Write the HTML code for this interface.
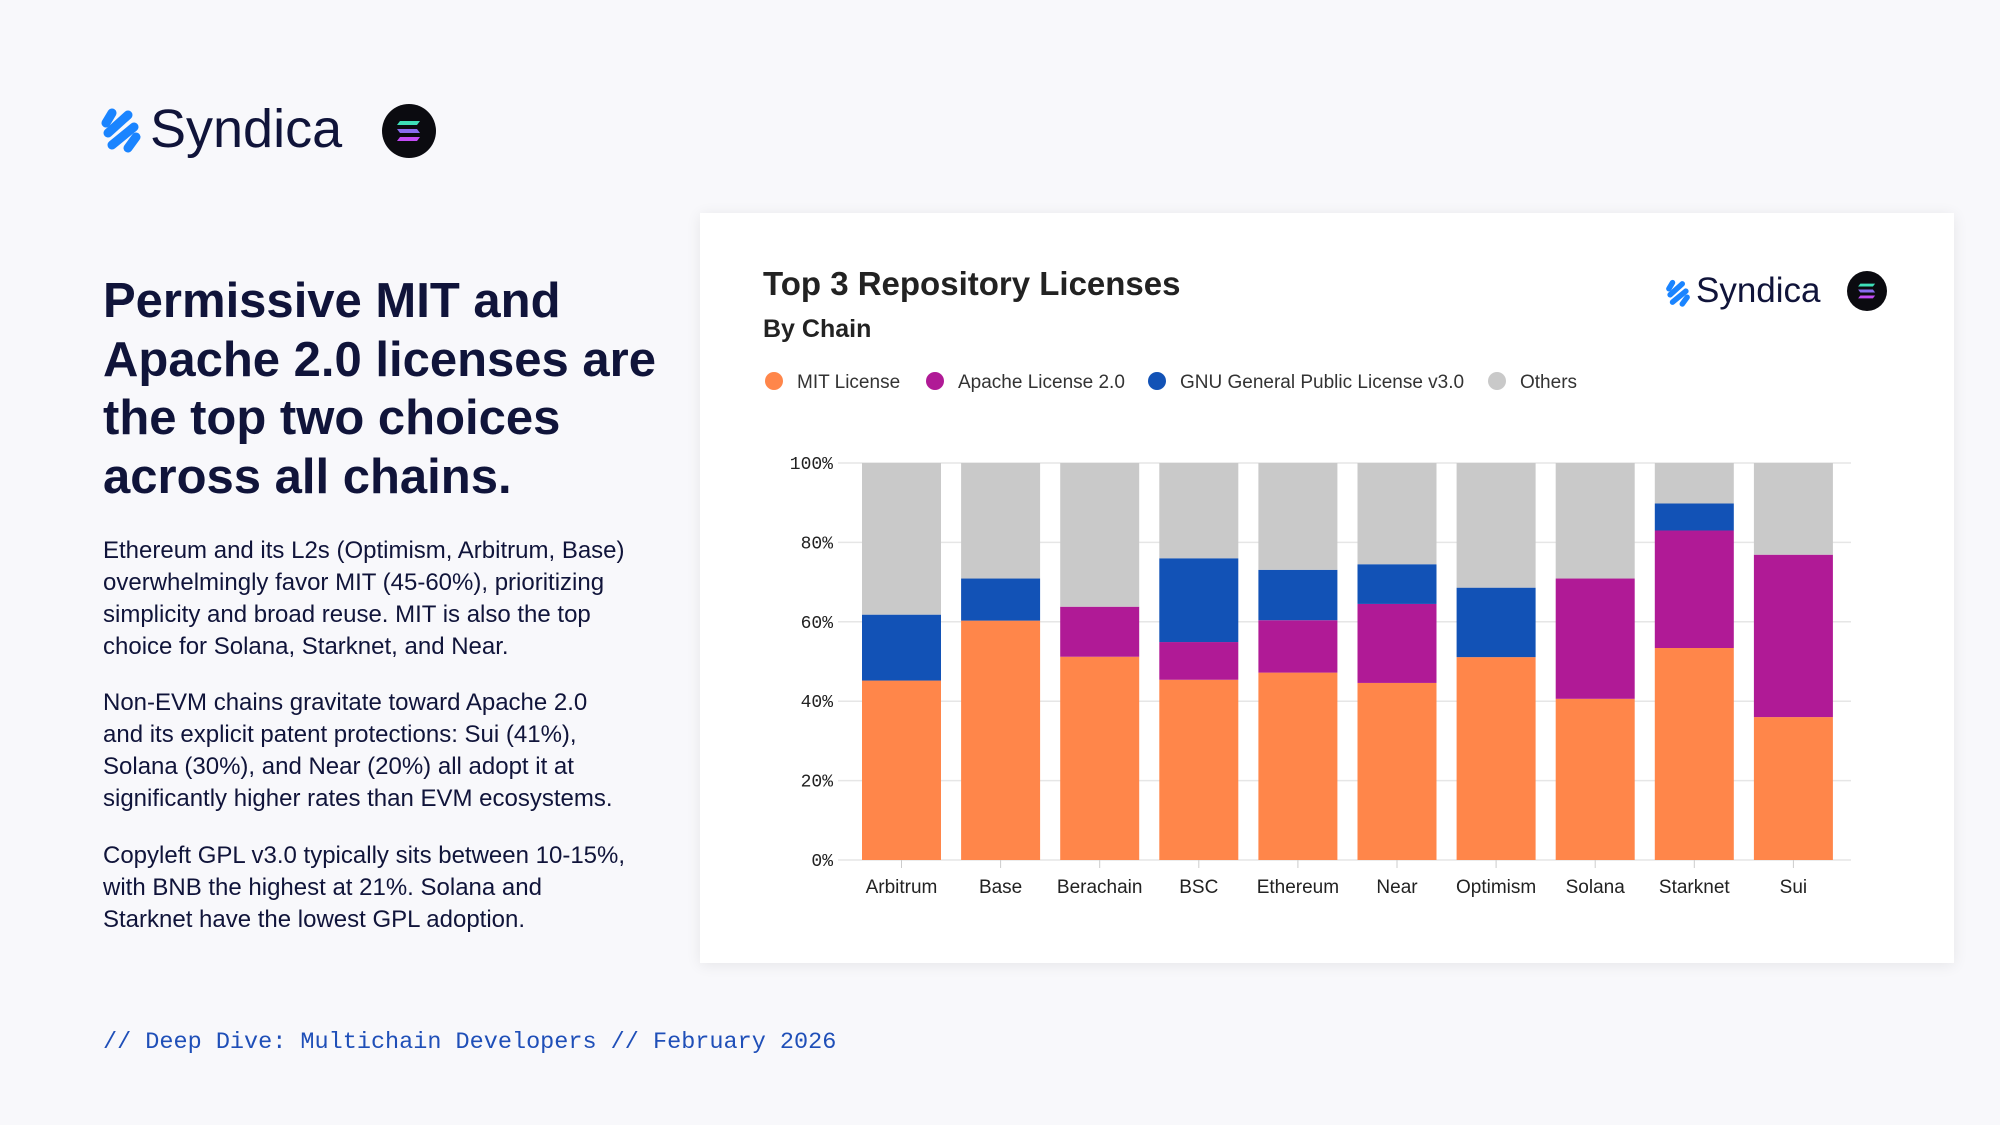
<!DOCTYPE html>
<html><head><meta charset="utf-8">
<style>
html,body{margin:0;padding:0;}
body{width:2000px;height:1125px;background:#f8f8fb;position:relative;overflow:hidden;font-family:"Liberation Sans",sans-serif;color:#10143a;}
.abs{position:absolute;}
h1{position:absolute;left:103px;top:272px;margin:0;font-size:49px;line-height:58.7px;font-weight:bold;color:#10143a;white-space:nowrap;}
.p{position:absolute;left:103px;font-size:24px;line-height:32px;white-space:nowrap;color:#10143a;}
.card{position:absolute;left:700px;top:213px;width:1254px;height:750px;background:#fff;box-shadow:0 2px 14px rgba(0,0,0,0.08);}
</style></head><body>
<div class="abs" style="left:98px;top:100px;width:260px;height:60px;">
 <svg width="46" height="50" viewBox="0 0 46 50" style="position:absolute;left:0;top:5px">
  <g stroke="#1a84ff" stroke-width="9" stroke-linecap="round"><line x1="14" y1="8" x2="8" y2="18"/><line x1="30" y1="10" x2="10" y2="28"/><line x1="36" y1="22" x2="14" y2="40"/><line x1="38" y1="32" x2="30" y2="43"/></g>
 </svg>
 <div style="position:absolute;left:52px;top:-2px;font-size:54px;color:#10143a;">Syndica</div>
</div>
<div class="abs" style="left:382px;top:104px;width:54px;height:54px;border-radius:50%;background:#0b0b10;">
 <svg width="54" height="54" viewBox="0 0 54 54"><g><polygon points="18,17 38,17 35,21 15,21" fill="#3ee0b8"/><polygon points="15,25 35,25 38,29 18,29" fill="#8a6cf0"/><polygon points="18,33 38,33 35,37 15,37" fill="#c24bf5"/></g></svg>
</div>
<h1>Permissive MIT and<br>Apache 2.0 licenses are<br>the top two choices<br>across all chains.</h1>
<div class="p" style="top:535px">Ethereum and its L2s (Optimism, Arbitrum, Base)<br>overwhelmingly favor MIT (45-60%), prioritizing<br>simplicity and broad reuse. MIT is also the top<br>choice for Solana, Starknet, and Near.</div>
<div class="p" style="top:687px">Non-EVM chains gravitate toward Apache 2.0<br>and its explicit patent protections: Sui (41%),<br>Solana (30%), and Near (20%) all adopt it at<br>significantly higher rates than EVM ecosystems.</div>
<div class="p" style="top:840px">Copyleft GPL v3.0 typically sits between 10-15%,<br>with BNB the highest at 21%. Solana and<br>Starknet have the lowest GPL adoption.</div>
<div class="abs" style="left:103px;top:1029px;font-family:'Liberation Mono',monospace;font-size:23.5px;color:#1f4fb8;white-space:pre;">// Deep Dive: Multichain Developers // February 2026</div>

<div class="card">
 <div class="abs" style="left:63px;top:52px;font-size:33px;font-weight:bold;color:#222;">Top 3 Repository Licenses</div>
 <div class="abs" style="left:63px;top:102px;font-size:25px;font-weight:bold;color:#222;">By Chain</div>
 <div class="abs" style="left:964px;top:58px;width:180px;height:45px;">
  <svg width="28" height="32" viewBox="0 0 46 50" style="position:absolute;left:0;top:6px"><g stroke="#1a84ff" stroke-width="9" stroke-linecap="round"><line x1="14" y1="8" x2="8" y2="18"/><line x1="30" y1="10" x2="10" y2="28"/><line x1="36" y1="22" x2="14" y2="40"/><line x1="38" y1="32" x2="30" y2="43"/></g></svg>
  <div style="position:absolute;left:32px;top:0px;font-size:35px;color:#10143a;">Syndica</div>
 </div>
 <div class="abs" style="left:1147px;top:58px;width:40px;height:40px;border-radius:50%;background:#0b0b10;">
  <svg width="40" height="40" viewBox="0 0 54 54"><polygon points="18,17 38,17 35,21 15,21" fill="#3ee0b8"/><polygon points="15,25 35,25 38,29 18,29" fill="#8a6cf0"/><polygon points="18,33 38,33 35,37 15,37" fill="#c24bf5"/></svg>
 </div>
 <svg id="chart" class="abs" style="left:0;top:0" width="1254" height="750"></svg>
</div>
<script>
const categories=["Arbitrum","Base","Berachain","BSC","Ethereum","Near","Optimism","Solana","Starknet","Sui"];
const mitValues=[45.2,60.3,51.2,45.4,47.2,44.6,51.1,40.6,53.4,36.0];
const apacheValues=[0,0,12.6,9.5,13.2,19.9,0,30.3,29.6,40.9];
const gplValues=[16.6,10.6,0,21.1,12.7,10.0,17.5,0,6.8,0];
const yTicks=[0,20,40,60,80,100];
const seriesNames=["MIT License","Apache License 2.0","GNU General Public License v3.0","Others"];
const colors=["#ff864a","#b01a96","#1252b6","#c9c9c9"];
const NS="http://www.w3.org/2000/svg";
const svg=document.getElementById('chart');
const plotL=138,plotR=1151,plotT=250,plotB=647;
const y=v=>plotB-(v/100)*(plotB-plotT);
const step=99.1,barW=79,x0=162;
const x=i=>x0+i*step;
function mk(t,a){const e=document.createElementNS(NS,t);for(const k in a)e.setAttribute(k,a[k]);svg.appendChild(e);return e;}
let lx=74;
const legendW=[161,222,340,100];
seriesNames.forEach((n,i)=>{
 const c=mk('circle',{cx:lx,cy:168,r:9,fill:colors[i]});
 
 
 const t=mk('text',{x:lx+23,y:175,'font-size':19,fill:'#333','font-family':'Liberation Sans, sans-serif'});
 t.textContent=n;
 
 
 lx+=legendW[i];
});
yTicks.forEach(v=>{
 const g=mk('line',{x1:plotL,x2:plotR,y1:y(v),y2:y(v),stroke:'#e6e6e6','stroke-width':1.5});
 
 
 const t=mk('text',{x:133,y:y(v)+6,'text-anchor':'end','font-size':18,fill:'#222','font-family':'Liberation Mono, monospace'});
 t.textContent=v+'%';
 
 
});
categories.forEach((c,i)=>{
 const others=100-mitValues[i]-apacheValues[i]-gplValues[i];
 const vals=[mitValues[i],apacheValues[i],gplValues[i],others];
 let acc=0;
 vals.forEach((v,s)=>{
  if(v<=0)return;
  const r=mk('rect',{x:x(i),y:y(acc+v),width:barW,height:y(acc)-y(acc+v),fill:colors[s]});
  
  
  acc+=v;
 });
 const tk=mk('line',{x1:x(i)+barW/2,x2:x(i)+barW/2,y1:plotB,y2:plotB+8,stroke:'#ccc','stroke-width':1});
 
 
 const t=mk('text',{x:x(i)+barW/2,y:680,'text-anchor':'middle','font-size':19,fill:'#222','font-family':'Liberation Sans, sans-serif'});
 t.textContent=c;
 
 
});
</script>
</body></html>
